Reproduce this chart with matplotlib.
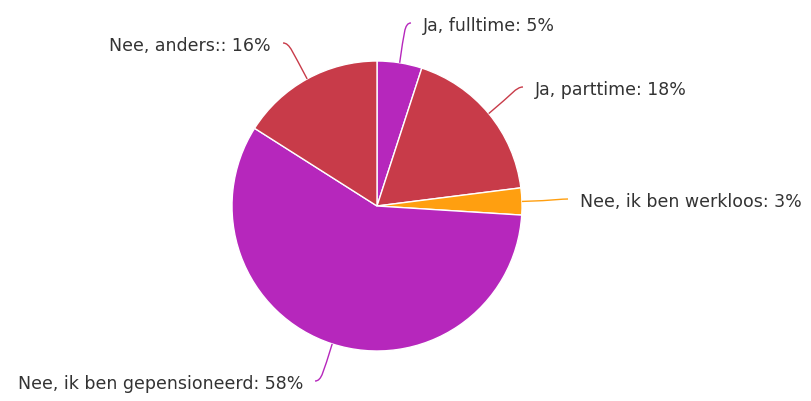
import matplotlib
matplotlib.use("Agg")
import matplotlib.pyplot as plt
from matplotlib.path import Path
from matplotlib.patches import PathPatch
import numpy as np

# slice data, clockwise from the top
labels = ["Ja, fulltime", "Ja, parttime", "Nee, ik ben werkloos",
          "Nee, ik ben gepensioneerd", "Nee, anders:"]
values = [5, 18, 3, 58, 16]
colors = ["#b627bc", "#c83b49", "#ff9f10", "#b627bc", "#c83b49"]

# where each label goes (pixel coords from the top-left) and its alignment
label_pos = [(423, 26), (535, 90), (580, 202), (303, 384), (271, 46)]
label_side = ["left", "left", "left", "right", "right"]

W, H = 811, 401
fig = plt.figure(figsize=(W / 100, H / 100), dpi=100)
ax = fig.add_axes([0, 0, 1, 1])

cx, cy, r = 377, H - 206, 145

wedges, _ = ax.pie(values, colors=colors, startangle=90, counterclock=False,
                   center=(cx, cy), radius=r, frame=True,
                   wedgeprops=dict(edgecolor="white", linewidth=1))
ax.set_xlim(0, W)
ax.set_ylim(0, H)
ax.set_aspect("equal")
ax.axis("off")

for w, lab, val, (tx, ty), side, col in zip(wedges, labels, values, label_pos, label_side, colors):
    ty = H - ty
    mid = np.deg2rad((w.theta1 + w.theta2) / 2)
    ex = cx + r * np.cos(mid)
    ey = cy + r * np.sin(mid)
    endx = tx - 12 if side == "left" else tx + 12
    endy = ty + 3
    # radial part first, then hook into the label
    d = np.hypot(endx - ex, endy - ey)
    p1 = (ex + np.cos(mid) * d * 0.7, ey + np.sin(mid) * d * 0.7)
    p2 = (endx - (7 if side == "left" else -7), endy)
    path = Path([(ex, ey), p1, p2, (endx, endy)],
                [Path.MOVETO, Path.CURVE4, Path.CURVE4, Path.CURVE4])
    ax.add_patch(PathPatch(path, fill=False, edgecolor=col, lw=1))
    ax.text(tx, ty, f"{lab}: {val}%", ha=side, va="center",
            fontsize=12.5, color="#333333", family="DejaVu Sans")

fig.savefig("out.png", dpi=100)
